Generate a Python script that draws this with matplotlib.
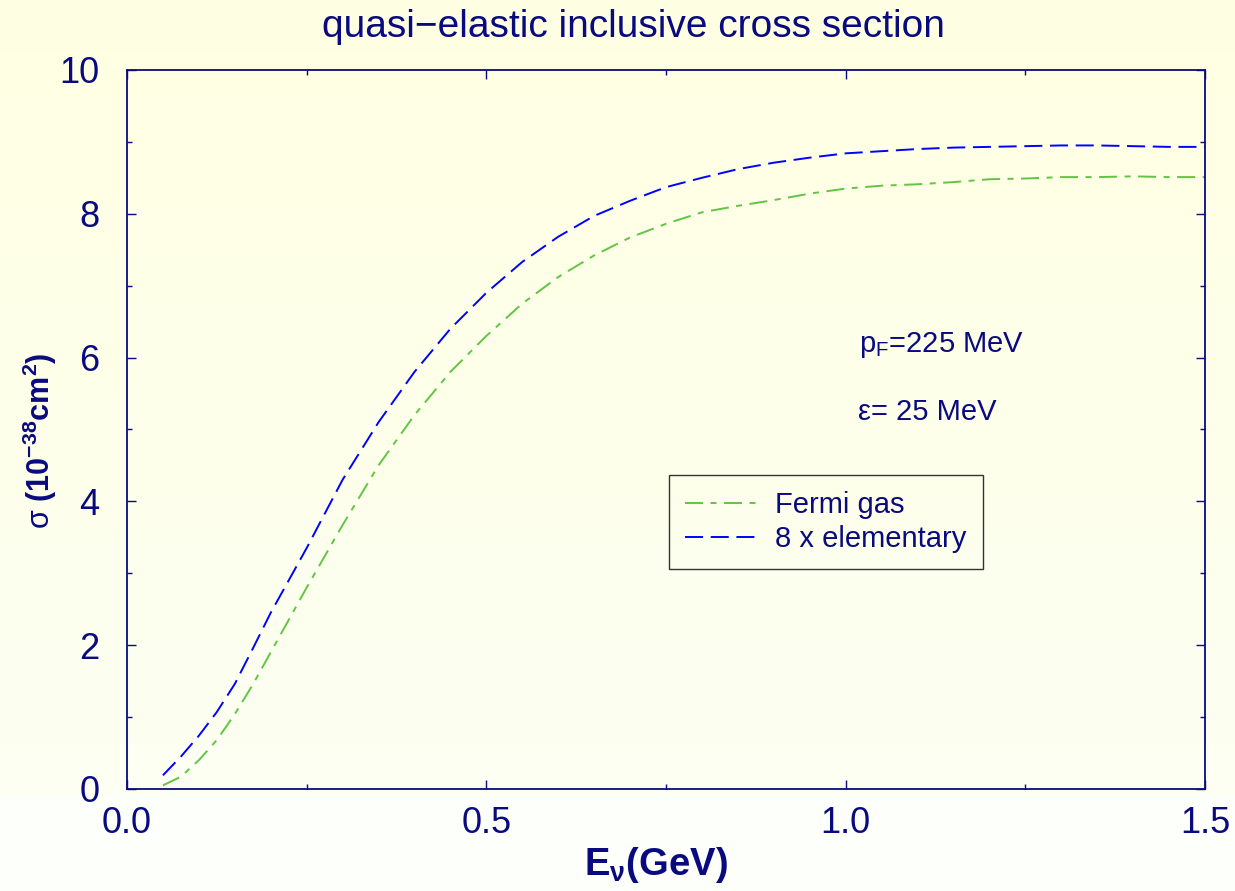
import numpy as np
import matplotlib
matplotlib.use("Agg")
import matplotlib.pyplot as plt
from matplotlib.ticker import MultipleLocator

# Wirkungsquerschnitt gegen Neutrinoenergie (GeV), zwei Rechnungen
energie = [0.05, 0.075, 0.1, 0.125, 0.15, 0.175, 0.2, 0.25, 0.3, 0.35, 0.4, 0.45,
           0.5, 0.55, 0.6, 0.65, 0.7, 0.75, 0.8, 0.85, 0.9, 0.95, 1.0, 1.05,
           1.1, 1.15, 1.2, 1.25, 1.3, 1.35, 1.4, 1.45, 1.5]
fermi_gas = [0.05, 0.17, 0.4, 0.68, 1.04, 1.45, 1.9, 2.8, 3.67, 4.5, 5.2, 5.8,
             6.3, 6.75, 7.12, 7.42, 7.67, 7.86, 8.02, 8.11, 8.19, 8.28, 8.35, 8.39,
             8.41, 8.44, 8.48, 8.49, 8.51, 8.51, 8.52, 8.51, 8.51]
elementar = [0.19, 0.45, 0.74, 1.07, 1.46, 1.95, 2.45, 3.35, 4.3, 5.1, 5.8, 6.4,
             6.9, 7.33, 7.68, 7.97, 8.18, 8.37, 8.5, 8.62, 8.71, 8.78, 8.84, 8.87,
             8.9, 8.92, 8.93, 8.94, 8.95, 8.95, 8.94, 8.93, 8.93]

navy = "#0a0a80"
plt.rcParams["font.family"] = ["Liberation Sans", "DejaVu Sans"]
plt.rcParams["mathtext.fontset"] = "custom"
plt.rcParams["mathtext.rm"] = "Liberation Sans"
plt.rcParams["mathtext.it"] = "Liberation Sans:italic"
plt.rcParams["mathtext.bf"] = "Liberation Sans:bold"
plt.rcParams["lines.scale_dashes"] = False

fig = plt.figure(figsize=(12.35, 8.91), dpi=100)

# hintergrund: leichter gelber verlauf, unten fast weiss
bg = fig.add_axes([0, 0, 1, 1], zorder=-10)
h = 891
oben = np.array([255, 255, 226]) / 255
unten = np.array([252, 255, 242]) / 255
t = np.clip(np.linspace(0, 1, h) / (795 / h), 0, 1)[:, None]
farbe = oben * (1 - t) + unten * t
farbe[796:] = np.array([253, 255, 250]) / 255
bg.imshow(np.repeat(farbe[:, None, :], 4, axis=1), aspect="auto", extent=[0, 1, 0, 1])
bg.axis("off")

ax = fig.add_axes([0.1028, 0.1145, 0.8729, 0.807])
ax.set_facecolor("none")
ax.plot(energie, fermi_gas, color="#62c444", lw=1.4, dashes=(13, 5.4, 4.3, 5.4), label="Fermi gas")
ax.plot(energie, elementar, color="#0000ff", lw=1.4, dashes=(13, 5.5), label="8 x elementary")

ax.set_xlim(0, 1.5)
ax.set_ylim(0, 10)
ax.xaxis.set_major_locator(MultipleLocator(0.5))
ax.xaxis.set_minor_locator(MultipleLocator(0.25))
ax.yaxis.set_major_locator(MultipleLocator(2))
ax.yaxis.set_minor_locator(MultipleLocator(1))
ax.xaxis.set_major_formatter(matplotlib.ticker.FormatStrFormatter("%.1f"))
ax.tick_params(which="both", direction="in", top=True, right=True, color=navy, labelcolor=navy,
               labelsize=26)
ax.tick_params(which="major", length=6.5, width=1.0)
ax.tick_params(which="minor", length=3.6, width=1.0)
ax.tick_params(axis="y", pad=20)
ax.tick_params(axis="x", pad=12)
for s in ax.spines.values():
    s.set_color(navy)
    s.set_linewidth(1.3)

fig.text(0.513, 0.970, "quasi\u2212elastic inclusive cross section", ha="center", va="center",
         fontsize=28, color=navy)
fig.text(0.531, 0.018, r"E$_{\mathbf{ν}}$(GeV)", ha="center", va="baseline",
         fontsize=27.5, fontweight="bold", color=navy)
fig.text(0.032, 0.505, r"$\mathrm{σ}$ (10$^{\mathbf{-38}}$cm$^{\mathbf{2}}$)", rotation=90,
         ha="center", va="center", fontsize=22, fontweight="bold", color=navy)

fig.text(859 / 1235, 1 - 352 / 891, r"p$_\mathrm{F}$=225 MeV", fontsize=21, color=navy, va="baseline")
fig.text(858 / 1235, 1 - 420 / 891, "ε= 25 MeV", fontsize=21, color=navy, va="baseline")

leg = ax.legend(loc="upper left", bbox_to_anchor=(669 / 1235, 1 - 475 / 891),
                bbox_transform=fig.transFigure, fontsize=21, frameon=True, fancybox=False,
                edgecolor="black", facecolor="none", handlelength=2.45, borderpad=0.55,
                labelspacing=0.2, handletextpad=0.65, borderaxespad=0)
for txt in leg.get_texts():
    txt.set_color(navy)
leg.get_frame().set_linewidth(1.0)

fig.savefig("out.png", dpi=100)
